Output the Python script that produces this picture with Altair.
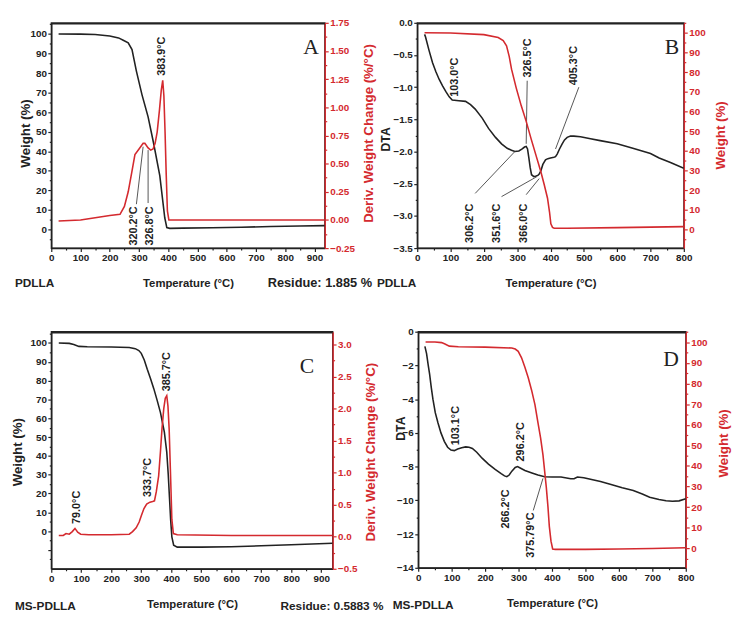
import altair as alt
import pandas as pd

BLACK = "#222222"
RED = "#d42a2f"
LEAD = "#555555"
FONT = "Liberation Sans"
SERIF = "Liberation Serif"

# ---------------- Panel A (PDLLA TGA) ----------------
a_w_t = [25, 100, 150, 200, 230, 246, 263, 276, 291, 310, 331, 350, 371, 388, 395, 405, 450, 550, 650, 750, 850, 935]
a_w_v = [100, 99.9, 99.7, 99.0, 98.0, 96.8, 95.5, 92, 81, 69, 57.6, 44, 27.6, 6, 1.0, 0.6, 0.7, 0.9, 1.2, 1.5, 1.8, 2.0]
a_d_t = [25, 100, 150, 200, 235, 250, 263, 275, 286, 300, 314, 320, 331, 340, 348, 355, 362, 370, 376, 381, 385, 389, 393, 397, 402, 420, 600, 800, 935]
a_d_v = [-0.01, 0.0, 0.02, 0.04, 0.05, 0.12, 0.25, 0.42, 0.58, 0.63, 0.68, 0.68, 0.64, 0.62, 0.63, 0.68, 0.78, 0.98, 1.15, 1.24, 1.10, 0.78, 0.40, 0.08, 0.0, 0.0, 0.0, 0.0, 0.0]
a_ann_label = ["383.9°C", "320.2°C", "326.8°C"]
a_ann_t = [377, 282, 339]
a_ann_v = [1.28, 0.12, 0.12]
a_ann_align = ["left", "right", "right"]
a_lead_t = [291, 331]
a_lead_t2 = [314, 331]
a_lead_v = [0.14, 0.15]
a_lead_v2 = [0.65, 0.62]

# ---------------- Panel B (PDLLA DTA) ----------------
b_dta_t = [22, 25, 35, 46, 56, 66, 76, 86, 96, 105, 125, 145, 160, 174, 195, 214, 235, 253, 270, 283, 293, 305, 315, 322, 327, 331, 335, 339, 343, 350, 357, 362, 366, 371, 377, 385, 392, 400, 410, 415, 420, 427, 435, 442, 450, 460, 470, 490, 520, 549, 600, 647, 700, 726, 760, 800]
b_dta_v = [-0.18, -0.22, -0.42, -0.62, -0.76, -0.88, -0.98, -1.07, -1.15, -1.2, -1.21, -1.22, -1.27, -1.34, -1.48, -1.64, -1.78, -1.88, -1.95, -1.98, -2.0, -1.99, -1.96, -1.93, -1.92, -1.96, -2.1, -2.25, -2.36, -2.39, -2.38, -2.37, -2.35, -2.3, -2.2, -2.13, -2.11, -2.1, -2.09, -2.08, -2.04, -1.96, -1.88, -1.82, -1.78, -1.76, -1.76, -1.77, -1.8, -1.83, -1.88, -1.95, -2.03, -2.1, -2.17, -2.26]
b_w_t = [22, 100, 200, 243, 258, 268, 276, 283, 297, 312, 327, 342, 356, 371, 381, 391, 397, 401, 406, 411, 450, 600, 800]
b_w_v = [100, 99.8, 99.0, 97.5, 96, 93.3, 88, 81.5, 72, 63, 55, 46, 38, 29.4, 23, 16, 9, 3, 1.2, 0.8, 0.8, 1.1, 1.6]
b_ann_label = ["103.0°C", "326.5°C", "405.3°C", "306.2°C", "351.6°C", "366.0°C"]
b_ann_t = [115, 332, 472, 160, 241, 322]
b_ann_v = [-1.15, -0.85, -0.97, -2.81, -2.81, -2.81]
b_ann_align = ["left", "left", "left", "right", "right", "right"]
b_lead_t = [330, 174, 253, 327, 485]
b_lead_t2 = [327, 293, 359, 366, 415]
b_lead_v = [-0.9, -2.65, -2.7, -2.67, -1.0]
b_lead_v2 = [-1.88, -2.0, -2.39, -2.42, -1.96]

# ---------------- Panel C (MS-PDLLA TGA) ----------------
c_w_t = [25, 60, 75, 92, 120, 200, 260, 280, 292, 300, 310, 320, 331, 342, 353, 364, 377, 385, 390, 394, 398, 402, 408, 420, 500, 600, 700, 800, 938]
c_w_v = [100, 99.8, 99.2, 98.2, 98, 97.9, 97.6, 97, 96, 94.5, 91, 86, 81, 75.6, 69.5, 63, 52.6, 42, 30, 18, 6, -3, -7.5, -8.5, -8.5, -8.3, -7.8, -7.2, -6.4]
c_d_t = [25, 40, 49, 60, 70, 79, 88, 98, 125, 200, 260, 271, 283, 293, 301, 309, 318, 329, 338, 344, 350, 358, 364, 369, 375, 380, 385, 389, 393, 397, 402, 407, 420, 600, 800, 938]
c_d_v = [0.02, 0.02, 0.05, 0.04, 0.08, 0.13, 0.07, 0.04, 0.03, 0.03, 0.04, 0.08, 0.14, 0.23, 0.34, 0.44, 0.51, 0.54, 0.55, 0.56, 0.7, 0.95, 1.33, 1.68, 2.0, 2.16, 2.2, 2.04, 1.68, 1.06, 0.27, 0.05, 0.03, 0.02, 0.02, 0.02]
c_ann_label = ["79.0°C", "333.7°C", "385.7°C"]
c_ann_t = [87, 322, 385]
c_ann_v = [0.2, 0.62, 2.27]
c_ann_align = ["left", "left", "left"]

# ---------------- Panel D (MS-PDLLA DTA) ----------------
d_dta_t = [20, 25, 30, 34, 39, 44, 51, 59, 68, 78, 88, 98, 108, 118, 130, 142, 152, 162, 175, 191, 210, 230, 248, 258, 265, 272, 280, 290, 297, 305, 319, 340, 358, 378, 400, 427, 456, 466, 476, 495, 515, 545, 574, 610, 643, 670, 692, 720, 741, 760, 780, 800]
d_dta_v = [-0.87, -1.3, -2.0, -2.5, -3.3, -4.0, -4.8, -5.4, -6.0, -6.5, -6.85, -7.02, -7.05, -6.96, -6.88, -6.83, -6.85, -6.92, -7.15, -7.5, -7.85, -8.17, -8.42, -8.55, -8.6, -8.5, -8.27, -8.05, -8.0, -8.08, -8.23, -8.38, -8.5, -8.6, -8.62, -8.62, -8.72, -8.72, -8.62, -8.66, -8.75, -8.88, -9.04, -9.25, -9.42, -9.62, -9.81, -9.95, -10.02, -10.05, -10.03, -9.9]
d_w_t = [22, 50, 70, 80, 93, 120, 200, 280, 290, 299, 309, 319, 329, 339, 349, 358, 366, 373, 378, 383, 388, 392, 397, 402, 410, 500, 600, 700, 800]
d_w_v = [100.2, 100.2, 99.9, 99.2, 98.2, 97.9, 97.7, 97.3, 96.8, 95.7, 92.5, 87.9, 82.8, 76.8, 69.8, 61.1, 53.5, 45.4, 37.5, 29.6, 20, 10.7, 3.5, -0.3, -0.5, -0.5, -0.3, -0.1, 0.3]
d_ann_label = ["103.1°C", "296.2°C", "266.2°C", "375.79°C"]
d_ann_t = [113, 307, 263, 336]
d_ann_v = [-6.73, -7.69, -9.35, -10.72]
d_ann_align = ["left", "left", "right", "right"]
d_lead_t = [344]
d_lead_t2 = [373]
d_lead_v = [-10.6]
d_lead_v2 = [-8.7]

panel_letters = ["A", "B", "C", "D"]
sample_names = ["PDLLA", "PDLLA", "MS-PDLLA", "MS-PDLLA"]
residues = ["Residue: 1.885 %", "Residue: 0.5883 %"]

X_TITLE = "Temperature (°C)"


def tick_size(test):
    return {"condition": {"test": test, "value": 3.5}, "value": 2}


def axis(orient, values, test, fmt, color, title, tx, ty, extra_test="true", tsize=13.5):
    return alt.Axis(
        orient=orient, values=values, format=fmt,
        labelExpr=f"({test}) && ({extra_test}) ? datum.label : ''",
        tickSize=tick_size(test), tickColor=color, tickWidth=1.2,
        domainColor=color, domainWidth=1.5,
        labelColor=color, labelFont=FONT, labelFontWeight="bold", labelFontSize=10,
        labelPadding=1.5, labelFlush=False, labelOverlap=False,
        title=title, titleColor=color, titleFont=FONT, titleFontWeight="bold",
        titleFontSize=tsize if orient != "bottom" else 11.5,
        titleAngle=270 if orient != "bottom" else 0,
        titleBaseline="middle", titleAlign="center",
        titleX=tx, titleY=ty, grid=False,
    )


def frange(a, b, s):
    out, v = [], a
    while v <= b + 1e-9:
        out.append(round(v, 4))
        v += s
    return out


def layers_for(t, v, color, xdom, ydom, xaxis, yaxis, ann=None, lead=None):
    """Line + optional annotation layers; each layer carries the same explicit scales."""
    xs = alt.Scale(domain=xdom, nice=False, zero=False)
    ys = alt.Scale(domain=ydom, nice=False, zero=False)
    df = pd.DataFrame({"t": t, "v": v})
    out = [
        alt.Chart(df).mark_line(color=color, strokeWidth=1.6, clip=True).encode(
            x=alt.X("t:Q", scale=xs, axis=xaxis),
            y=alt.Y("v:Q", scale=ys, axis=yaxis),
        )
    ]
    if lead is not None:
        ld = pd.DataFrame({"t": lead[0], "t2": lead[1], "v": lead[2], "v2": lead[3]})
        out.append(
            alt.Chart(ld).mark_rule(color=LEAD, strokeWidth=1).encode(
                x=alt.X("t:Q", scale=xs, axis=None), x2="t2:Q",
                y=alt.Y("v:Q", scale=ys, axis=None), y2="v2:Q",
            )
        )
    if ann is not None:
        ad = pd.DataFrame({"label": ann[0], "t": ann[1], "v": ann[2], "al": ann[3]})
        for al in ["left", "right"]:
            sub = ad[ad["al"] == al]
            if len(sub) == 0:
                continue
            out.append(
                alt.Chart(sub).mark_text(
                    angle=270, align=al, baseline="middle", font=FONT,
                    fontWeight="bold", fontSize=11, color=BLACK,
                ).encode(
                    x=alt.X("t:Q", scale=xs, axis=None),
                    y=alt.Y("v:Q", scale=ys, axis=None),
                    text="label:N",
                )
            )
    return out


def frame_top(xdom, w):
    """Top frame line drawn last so nothing covers it."""
    xs = alt.Scale(domain=xdom, nice=False, zero=False)
    return alt.Chart(pd.DataFrame({"t": [xdom[0]], "t2": [xdom[1]]})).mark_rule(
        color=BLACK, strokeWidth=1.6
    ).encode(
        x=alt.X("t:Q", scale=xs, axis=None), x2="t2:Q", y=alt.value(1),
    )


def txt(s, x, y, size, align="left", font=FONT, weight="bold", color=BLACK):
    return alt.Chart(pd.DataFrame({"s": [s]})).mark_text(
        align=align, baseline="middle", font=font, fontWeight=weight,
        fontSize=size, color=color,
    ).encode(x=alt.value(x), y=alt.value(y), text="s:N")


def xaxis_for(xmax_tick, w, ty):
    vals = frange(0, xmax_tick, 50)
    return axis("bottom", vals, "datum.value % 100 == 0", "d", BLACK, X_TITLE, w / 2, ty)


def panel(left_layers, right_layers, extras, w, h, xdom):
    return alt.layer(*left_layers, *right_layers, *extras, frame_top(xdom, w)).resolve_scale(
        x="independent", y="independent"
    ).properties(width=w, height=h)


# Panel A
WA, HA = 278, 229
A = panel(
    layers_for(a_w_t, a_w_v, BLACK, [0, 935], [-9.5, 105.7], xaxis_for(900, WA, 36),
               axis("left", frange(-5, 105, 5), "datum.value % 10 == 0", "d", BLACK, "Weight (%)", -26, 112, "datum.value >= 0")),
    layers_for(a_d_t, a_d_v, RED, [0, 935], [-0.25, 1.75], None,
               axis("right", frange(-0.25, 1.75, 0.125), "datum.value % 0.25 == 0", ".2f", RED, "Deriv. Weight Change (%/°C)", 45, 112),
               ann=(a_ann_label, a_ann_t, a_ann_v, a_ann_align),
               lead=(a_lead_t, a_lead_t2, a_lead_v, a_lead_v2)),
    [txt(panel_letters[0], 264, 25, 22, "center", SERIF, "normal"),
     txt(sample_names[0], -37, 265, 12),
     txt(residues[0], 220, 265, 13)],
    WA, HA, [0, 935])

# Panel B
WB, HB = 271, 229
B = panel(
    layers_for(b_dta_t, b_dta_v, BLACK, [0, 800], [-3.5, 0.0], xaxis_for(800, WB, 36),
               axis("left", frange(-3.5, 0, 0.25), "datum.value % 0.5 == 0", ".1f", BLACK, "DTA", -32, 118, tsize=12.5),
               ann=(b_ann_label, b_ann_t, b_ann_v, b_ann_align),
               lead=(b_lead_t, b_lead_t2, b_lead_v, b_lead_v2)),
    layers_for(b_w_t, b_w_v, RED, [0, 800], [-9.3, 105], None,
               axis("right", frange(-5, 105, 5), "datum.value % 10 == 0", "d", RED, "Weight (%)", 37, 114, "datum.value >= 0")),
    [txt(panel_letters[1], 259, 25, 22, "center", SERIF, "normal"),
     txt(sample_names[1], -41, 265, 12)],
    WB, HB, [0, 800])

# Panel C
WC, HC = 286, 241
C = panel(
    layers_for(c_w_t, c_w_v, BLACK, [0, 938], [-20, 106], xaxis_for(900, WC, 36),
               axis("left", frange(-15, 105, 5), "datum.value % 10 == 0", "d", BLACK, "Weight (%)", -34, 122, "datum.value >= 0")),
    layers_for(c_d_t, c_d_v, RED, [0, 938], [-0.5, 3.2], None,
               axis("right", frange(-0.5, 3.0, 0.25), "datum.value % 0.5 == 0", ".1f", RED, "Deriv. Weight Change (%/°C)", 39, 122),
               ann=(c_ann_label, c_ann_t, c_ann_v, c_ann_align)),
    [txt(panel_letters[2], 260, 35, 22, "center", SERIF, "normal"),
     txt(sample_names[2], -37, 279, 12),
     txt(residues[1], 233, 279, 12)],
    WC, HC, [0, 938])

# Panel D
WD, HD = 272, 240
D = panel(
    layers_for(d_dta_t, d_dta_v, BLACK, [0, 800], [-14, 0], xaxis_for(800, WD, 36),
               axis("left", frange(-14, 0, 1), "datum.value % 2 == 0", "d", BLACK, "DTA", -18, 98, tsize=12.5),
               ann=(d_ann_label, d_ann_t, d_ann_v, d_ann_align),
               lead=(d_lead_t, d_lead_t2, d_lead_v, d_lead_v2)),
    layers_for(d_w_t, d_w_v, RED, [0, 800], [-9.45, 105.2], None,
               axis("right", frange(-5, 105, 5), "datum.value % 10 == 0", "d", RED, "Weight (%)", 38, 113, "datum.value >= 0")),
    [txt(panel_letters[3], 257, 28, 22, "center", SERIF, "normal"),
     txt(sample_names[3], -26, 278, 12)],
    WD, HD, [0, 800])

row1 = alt.hconcat(A, B, spacing=94, bounds="flush")
row2 = alt.hconcat(C, D, spacing=87, bounds="flush")

chart = alt.vconcat(row1, row2, spacing=35).properties(
    padding={"left": 2, "top": 4, "right": 2, "bottom": 2},
    background="white",
).configure_view(stroke=BLACK, strokeWidth=1.4)

chart.save("out.html", embed_options={"renderer": "svg", "actions": False})
